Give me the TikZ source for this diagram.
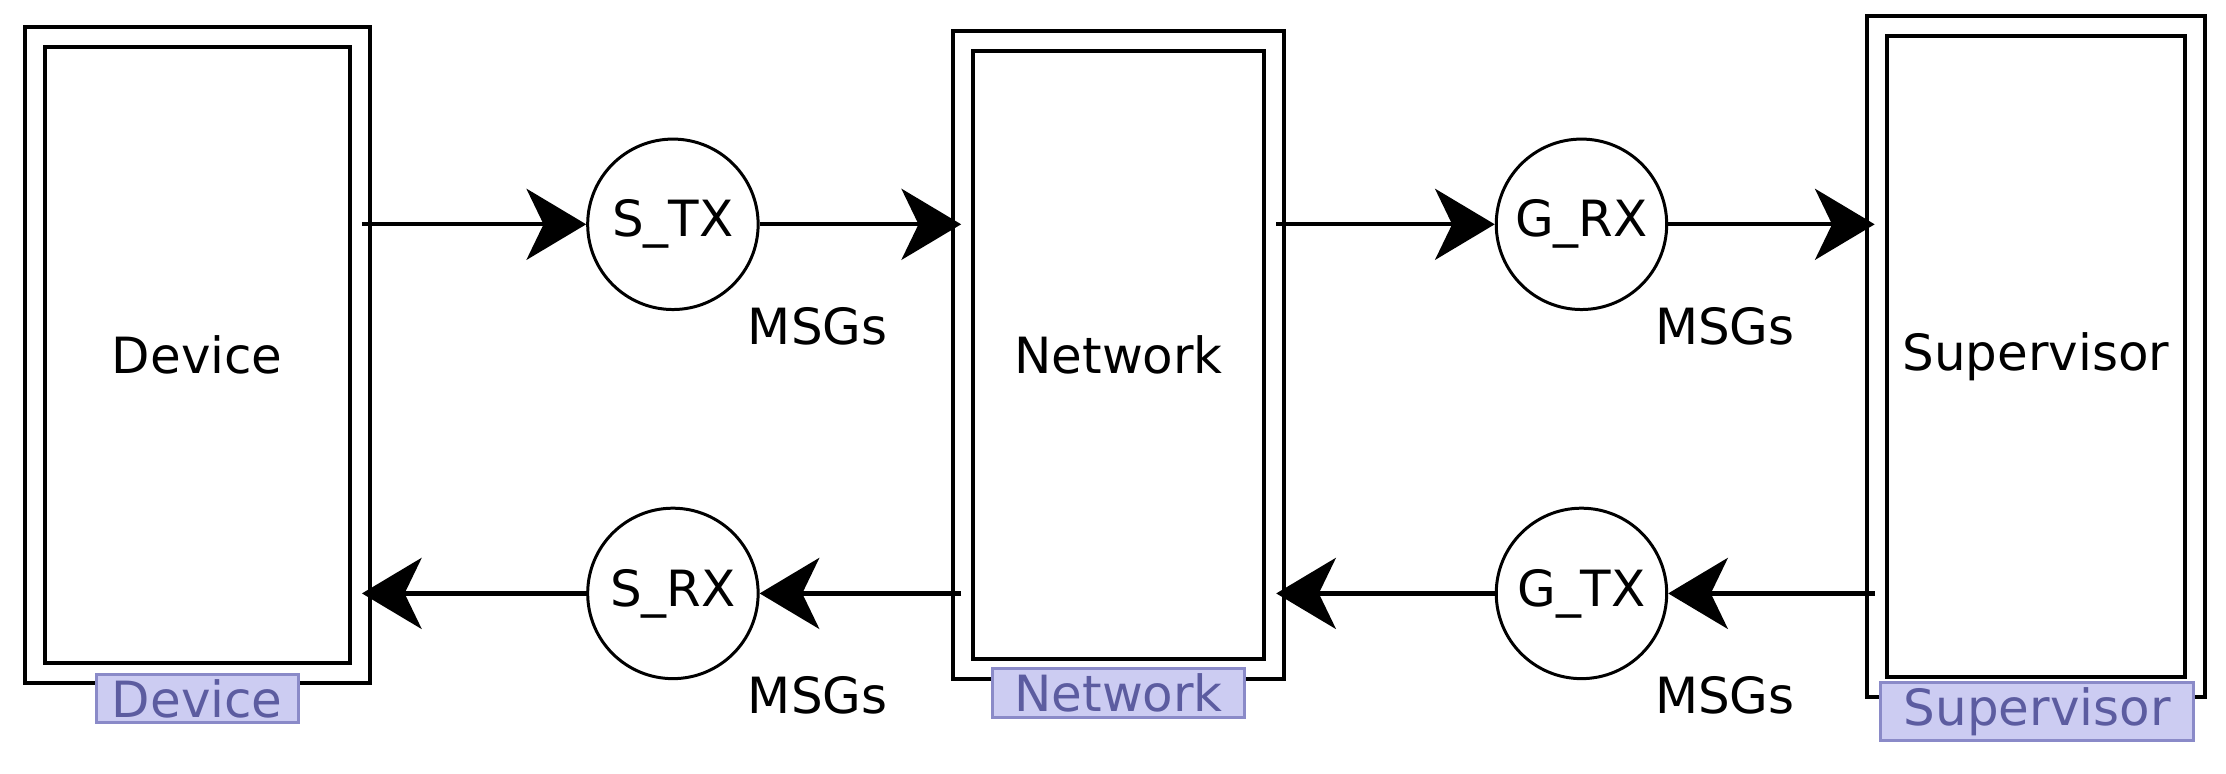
\documentclass[tikz,border=0pt]{standalone}
\usepackage{fontspec}
\setmainfont{DejaVu Sans}
\usetikzlibrary{arrows.meta,positioning}
\definecolor{tagblue}{HTML}{CCCCF2}
\definecolor{tagline}{HTML}{8A8AC8}
\definecolor{tagtext}{HTML}{5C5CA0}

\begin{document}
\begin{tikzpicture}[
    x=0.01cm, y=-0.01cm,
    block/.style={draw, double, double distance=3.2pt, line width=0.8pt, inner sep=0pt},
    port/.style={draw, circle, line width=0.6pt, minimum size=1.2cm, inner sep=0pt, font=\fontsize{10}{12}\selectfont},
    flow/.style={-{Stealth[length=0.42cm, width=0.5cm, inset=0.12cm]}, line width=0.85pt},
    tag/.style={draw=tagline, fill=tagblue, text=tagtext, line width=0.6pt, inner sep=1pt, font=\fontsize{10}{12}\selectfont},
    every node/.style={font=\fontsize{10}{12}\selectfont}
]
\useasboundingbox (0,0) rectangle (1568,545);

% ---- Blocks ----
\node[block, minimum width=2.29cm, minimum height=4.48cm] (dev) at (139,250) {Device};
\node[block, minimum width=2.19cm, minimum height=4.42cm] (net) at (788,250) {Network};
\node[block, minimum width=2.24cm, minimum height=4.65cm] (sup) at (1434,251) {Supervisor};

% ---- Tags ----
\node[tag, minimum width=1.42cm] (devtag) at (139,492) {Device};
\node[tag, minimum width=1.77cm] (nettag) at (788,488) {Network};
\node[tag, minimum width=2.2cm] (suptag) at (1435,501) {Supervisor};

% ---- Ports ----
\node[port] (stx) at (474,158) {S\_TX};
\node[port] (grx) at (1114,158) {G\_RX};
\node[port] (srx) at (474,418) {S\_RX};
\node[port] (gtx) at (1114,418) {G\_TX};

\node (m1) at (576,230) {MSGs};
\node (m2) at (1215,230) {MSGs};
\node (m3) at (576,490) {MSGs};
\node (m4) at (1215,490) {MSGs};

% ---- Flows ----
\draw[flow] (dev.east |- stx) -- (stx.west);
\draw[flow] (stx.east) -- (net.west |- stx);
\draw[flow] (net.east |- grx) -- (grx.west);
\draw[flow] (grx.east) -- (sup.west |- grx);
\draw[flow] (sup.west |- gtx) -- (gtx.east);
\draw[flow] (gtx.west) -- (net.east |- gtx);
\draw[flow] (net.west |- srx) -- (srx.east);
\draw[flow] (srx.west) -- (dev.east |- srx);

\end{tikzpicture}
\end{document}
